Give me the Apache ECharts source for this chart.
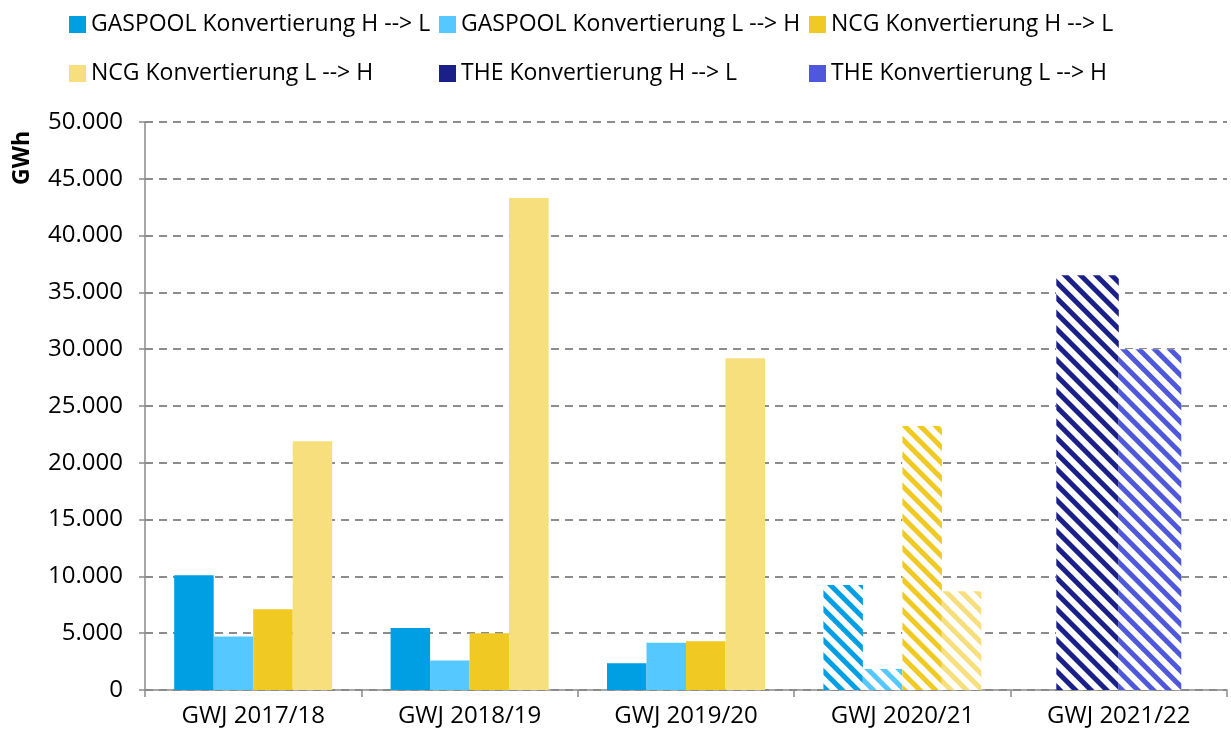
<!DOCTYPE html>
<html>
<head>
<meta charset="utf-8">
<script src="https://cdn.jsdelivr.net/npm/echarts@6/dist/echarts.min.js"></script>
<style>html,body{margin:0;padding:0;background:#fff}#c{width:1231px;height:738px}</style>
</head>
<body>
<div id="c"></div>
<script>
const categories = ['GWJ 2017/18', 'GWJ 2018/19', 'GWJ 2019/20', 'GWJ 2020/21', 'GWJ 2021/22'];
const seriesNames = ['GASPOOL Konvertierung H --> L', 'GASPOOL Konvertierung L --> H', 'NCG Konvertierung H --> L', 'NCG Konvertierung L --> H', 'THE Konvertierung H --> L', 'THE Konvertierung L --> H'];
const gaspoolHL = [10100, 5450, 2350, 9250, null];
const gaspoolLH = [4700, 2600, 4150, 1850, null];
const ncgHL = [7100, 5000, 4300, 23250, null];
const ncgLH = [21900, 43300, 29200, 8700, null];
const theHL = [null, null, null, null, 36500];
const theLH = [null, null, null, null, 30000];
const hatchedCategories = ['GWJ 2020/21', 'GWJ 2021/22'];

const colors = ['#009FE3', '#55C8FF', '#F0C922', '#F6DF7C', '#1B2089', '#4F58DA'];
const FONT = 'Open Sans';

function fmt(v) {
  return String(v).replace(/\B(?=(\d{3})+(?!\d))/g, '.');
}

function buildData(values, color) {
  return values.map((v, i) => {
    if (hatchedCategories.indexOf(categories[i]) >= 0 && v != null) {
      return {
        value: v,
        itemStyle: {
          color: '#ffffff',
          decal: {
            symbol: 'rect',
            symbolSize: 1,
            color: color,
            backgroundColor: '#ffffff',
            dashArrayX: [1, 0],
            dashArrayY: [5, 6],
            rotation: Math.PI / 4
          }
        }
      };
    }
    return v;
  });
}

const allValues = [gaspoolHL, gaspoolLH, ncgHL, ncgLH, theHL, theLH];
const series = allValues.map((vals, k) => ({
  name: seriesNames[k],
  type: 'bar',
  xAxisIndex: k < 4 ? 0 : 1,
  barWidth: k < 4 ? 39.5 : 62.5,
  barGap: '0%',
  itemStyle: { color: colors[k] },
  data: buildData(vals, colors[k])
}));

const legendLefts = [64, 434, 804];
const legendTops = [8, 57];
const legends = seriesNames.map((n, k) => ({
  left: legendLefts[k % 3],
  top: legendTops[Math.floor(k / 3)],
  itemWidth: 17,
  itemHeight: 17,
  icon: 'rect',
  data: [n],
  textStyle: { fontFamily: FONT, fontSize: 23, color: '#000' }
}));

const chart = echarts.init(document.getElementById('c'), null, { renderer: 'canvas' });
chart.setOption({
  animation: false,
  textStyle: { fontFamily: FONT },
  legend: legends,
  graphic: [{
    type: 'text',
    x: 22, y: 158,
    rotation: Math.PI / 2,
    style: {
      text: 'GWh',
      fontFamily: FONT,
      fontSize: 23,
      fontWeight: 'bold',
      fill: '#000',
      align: 'center',
      verticalAlign: 'middle'
    }
  }],
  grid: { left: 145, right: 4, top: 122, bottom: 48 },
  xAxis: [{
    type: 'category',
    data: categories,
    axisLine: { lineStyle: { color: '#8a8a8a', width: 1.5 } },
    axisTick: { show: true, length: 7, lineStyle: { color: '#8a8a8a', width: 1.5 } },
    axisLabel: { fontFamily: FONT, fontSize: 24, color: '#000', margin: 14 }
  }, {
    type: 'category',
    data: categories,
    show: false
  }],
  yAxis: {
    type: 'value',
    min: 0,
    max: 50000,
    interval: 5000,
    axisLine: { show: true, lineStyle: { color: '#8a8a8a', width: 1.5 } },
    axisTick: { show: true, length: 6, lineStyle: { color: '#8a8a8a', width: 1.5 } },
    axisLabel: { fontFamily: FONT, fontSize: 24, color: '#000', margin: 22, formatter: v => fmt(v) },
    splitLine: { show: true, lineStyle: { color: '#8c8c8c', type: [8, 6], width: 1.8 } }
  },
  series: series
});
</script>
</body>
</html>
